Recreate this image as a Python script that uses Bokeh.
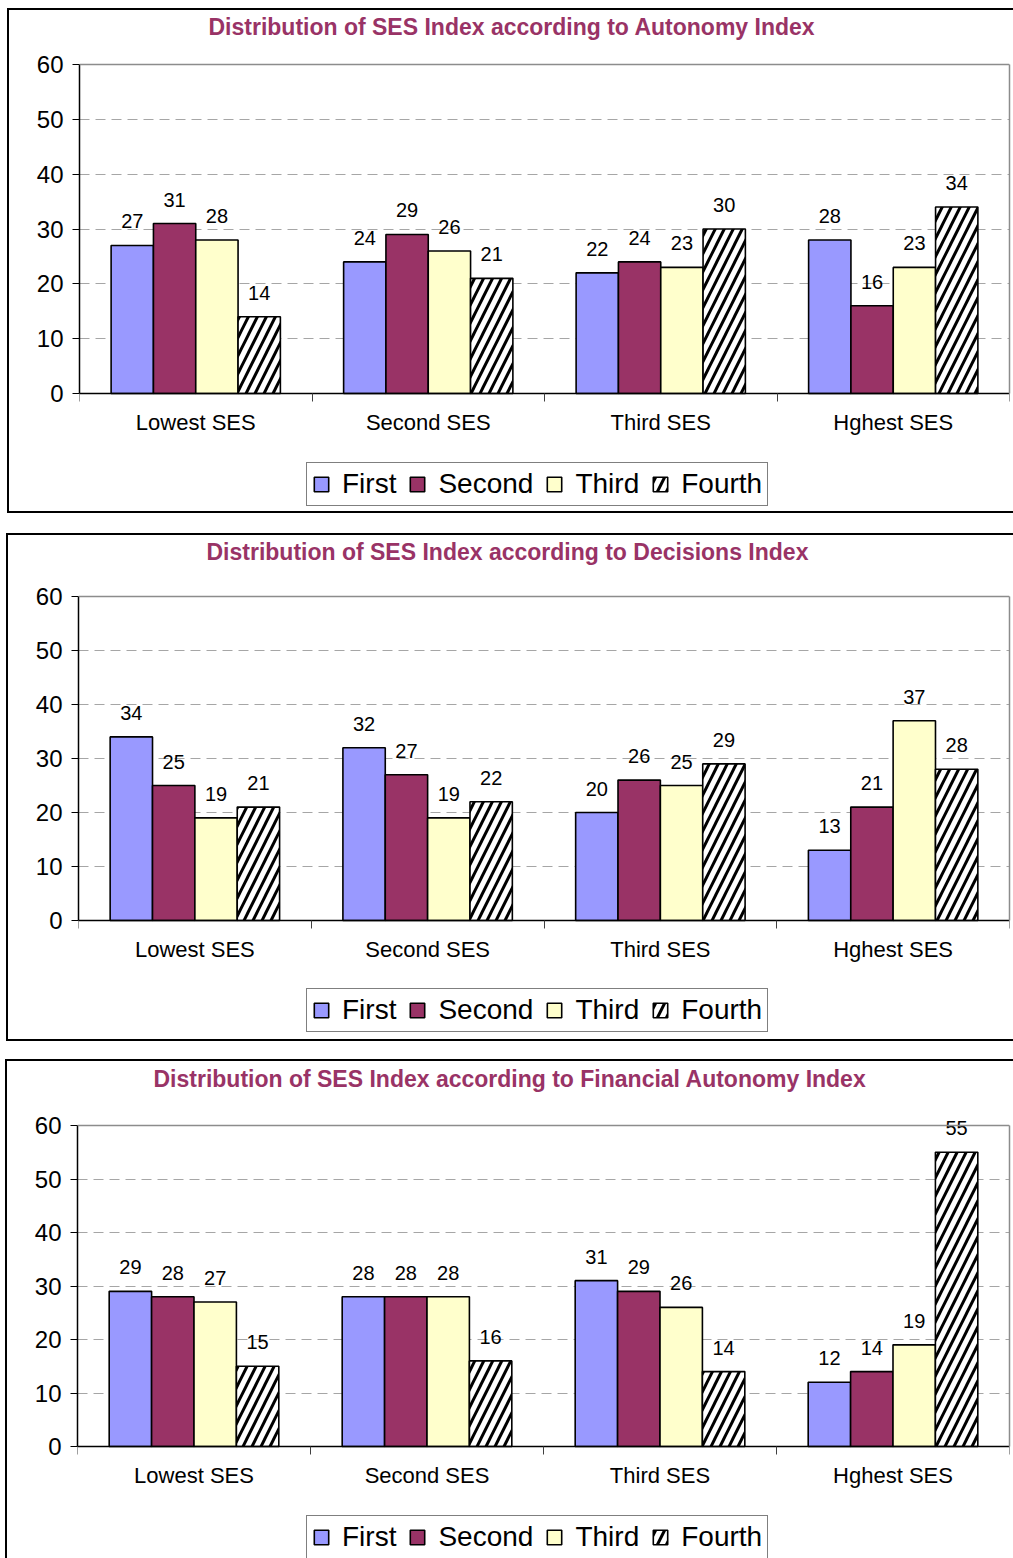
from bokeh.plotting import figure
from bokeh.layouts import column
from bokeh.models import (ColumnDataSource, Range1d, FixedTicker, Legend, LegendItem,
                          LinearAxis, Span, Title)
from bokeh.transform import dodge
from bokeh.embed import file_html
from bokeh.resources import INLINE

# SES quartile groups along the x axis
categories = ["Lowest SES", "Second SES", "Third SES", "Hghest SES"]
series_names = ["First", "Second", "Third", "Fourth"]

# Autonomy Index
autonomy_first = [27, 24, 22, 28]
autonomy_second = [31, 29, 24, 16]
autonomy_third = [28, 26, 23, 23]
autonomy_fourth = [14, 21, 30, 34]

# Decisions Index
decisions_first = [34, 32, 20, 13]
decisions_second = [25, 27, 26, 21]
decisions_third = [19, 19, 25, 37]
decisions_fourth = [21, 22, 29, 28]

# Financial Autonomy Index
financial_first = [29, 28, 31, 12]
financial_second = [28, 28, 29, 14]
financial_third = [27, 28, 26, 19]
financial_fourth = [15, 16, 14, 55]

y_ticks = [0, 10, 20, 30, 40, 50, 60]

FONT = "Liberation Sans"
BAR_W = 0.182
OFFSETS = [-1.5 * BAR_W, -0.5 * BAR_W, 0.5 * BAR_W, 1.5 * BAR_W]
FILLS = ["#9999FF", "#993366", "#FFFFCC", "#FFFFFF"]
FRAME_GRAY = "#8C8C8C"
BORDER = {"border-left": "2px solid #000", "border-top": "2px solid #000",
          "border-bottom": "2px solid #000"}


def make_panel(title, values, width, height, mb_left, mb_top, mb_right,
               top_px, plot_px, title_gap, title_offset, legend_loc, margin, styles):
    """One bordered chart panel.  The frame runs from a little above the 60 line
    down to the bottom of the panel, so value labels and the legend under the
    category axis are not clipped; plot_px is the pixel height of the 0..60 band."""
    centers = [i + 0.5 for i in range(len(categories))]
    data = {"center": centers, "cat": categories}
    for name, vals in zip(series_names, values):
        data[name] = vals
        data[name + "_lbl"] = [str(v) for v in vals]
    src = ColumnDataSource(data)

    y_lo, y_hi = y_ticks[0], y_ticks[-1]
    span = y_hi - y_lo
    below_px = height - mb_top - top_px - plot_px
    y_min = y_lo - span * below_px / plot_px
    y_max = y_hi + span * top_px / plot_px

    p = figure(width=width, height=height, output_backend="svg", toolbar_location=None,
               x_range=Range1d(0, len(categories)), y_range=Range1d(y_min, y_max),
               min_border_left=mb_left, min_border_top=mb_top,
               min_border_bottom=0, min_border_right=mb_right)
    p.margin = margin
    p.styles = styles
    p.outline_line_color = None
    p.background_fill_color = "white"
    p.border_fill_color = "white"

    # spacer between the title and the plot area, then the title itself
    p.add_layout(Title(text=" ", text_font_size="10px", standoff=title_gap), "above")
    p.title.text = title
    p.title.align = "left"
    p.title.offset = title_offset
    p.title.standoff = 0
    p.title.text_font = FONT
    p.title.text_font_size = "23px"
    p.title.text_font_style = "bold"
    p.title.text_color = "#993366"

    # y axis
    p.yaxis.ticker = FixedTicker(ticks=y_ticks)
    p.yaxis.bounds = (y_lo, y_hi)
    p.yaxis.axis_line_color = "black"
    p.yaxis.axis_line_width = 1.5
    p.yaxis.major_tick_line_color = "black"
    p.yaxis.major_tick_out = 7
    p.yaxis.major_tick_in = 0
    p.yaxis.minor_tick_line_color = None
    p.yaxis.major_label_text_font = FONT
    p.yaxis.major_label_text_font_size = "24px"
    p.yaxis.major_label_text_color = "black"
    p.yaxis.major_label_standoff = 9

    # grey plot-area edge on the right and at the top
    right = LinearAxis(ticker=FixedTicker(ticks=[]), bounds=(y_lo, y_hi),
                       axis_line_color=FRAME_GRAY, axis_line_width=1.5,
                       major_tick_out=0, major_tick_in=0, minor_tick_out=0, minor_tick_in=0,
                       major_label_standoff=0)
    p.add_layout(right, "right")
    p.add_layout(Span(location=y_hi, dimension="width", line_color=FRAME_GRAY, line_width=1.5))

    # x axis pinned at zero: names at group centres, ticks at group boundaries
    p.xaxis.fixed_location = 0
    p.xaxis.ticker = FixedTicker(ticks=centers, minor_ticks=list(range(len(categories) + 1)))
    p.xaxis.major_label_overrides = {c: cat for c, cat in zip(centers, categories)}
    p.xaxis.major_tick_line_color = None
    p.xaxis.major_tick_out = 0
    p.xaxis.major_tick_in = 0
    p.xaxis.minor_tick_line_color = "#404040"
    p.xaxis.minor_tick_out = 8
    p.xaxis.minor_tick_in = 0
    p.xaxis.axis_line_color = "black"
    p.xaxis.axis_line_width = 1.5
    p.xaxis.major_label_text_font = FONT
    p.xaxis.major_label_text_font_size = "22px"
    p.xaxis.major_label_text_color = "black"
    p.xaxis.major_label_standoff = 8

    p.xgrid.grid_line_color = None
    p.ygrid.grid_line_color = "#A6A6A6"
    p.ygrid.grid_line_dash = "10 6"
    p.ygrid.grid_line_width = 1

    renderers = []
    for name, off, fill in zip(series_names, OFFSETS, FILLS):
        kw = dict(fill_color=fill, line_color="black", line_width=1.6)
        if name == "Fourth":
            kw.update(hatch_pattern="/", hatch_color="black", hatch_scale=18, hatch_weight=3)
        r = p.vbar(x=dodge("center", off, range=p.x_range), top=name, bottom=0,
                   width=BAR_W, source=src, **kw)
        renderers.append(r)
        p.text(x=dodge("center", off, range=p.x_range), y=name, text=name + "_lbl",
               source=src, text_align="center", text_baseline="alphabetic", y_offset=-24,
               text_font={"value": FONT}, text_font_size="20px", text_color="black")

    legend = Legend(items=[LegendItem(label=n, renderers=[r]) for n, r in zip(series_names, renderers)],
                    orientation="horizontal", location=legend_loc)
    legend.label_text_font = FONT
    legend.label_text_font_size = "28px"
    legend.label_text_color = "black"
    legend.glyph_width = 18
    legend.glyph_height = 18
    legend.label_standoff = 12
    legend.spacing = 12
    legend.padding = 5
    legend.margin = 0
    legend.border_line_color = "black"
    legend.border_line_width = 1
    legend.background_fill_alpha = 1
    p.add_layout(legend, "center")
    return p


p1 = make_panel("Distribution of SES Index according to Autonomy Index",
                [autonomy_first, autonomy_second, autonomy_third, autonomy_fourth],
                width=1006, height=505, mb_left=70, mb_top=46, mb_right=6,
                top_px=8, plot_px=329, title_gap=4, title_offset=129,
                legend_loc=(227, 9), margin=(8, 0, 0, 7), styles=BORDER)

p2 = make_panel("Distribution of SES Index according to Decisions Index",
                [decisions_first, decisions_second, decisions_third, decisions_fourth],
                width=1007, height=508, mb_left=70, mb_top=53, mb_right=6,
                top_px=8, plot_px=324, title_gap=11, title_offset=128,
                legend_loc=(228, 11), margin=(20, 0, 0, 6), styles=BORDER)

p3 = make_panel("Distribution of SES Index according to Financial Autonomy Index",
                [financial_first, financial_second, financial_third, financial_fourth],
                width=1008, height=499, mb_left=70, mb_top=56, mb_right=5,
                top_px=8, plot_px=321, title_gap=13, title_offset=76,
                legend_loc=(229, 1), margin=(18, 0, 0, 5),
                styles={"border-left": "2px solid #000", "border-top": "2px solid #000"})

layout = column(p1, p2, p3, spacing=0)
layout.margin = 0

with open("out.html", "w") as f:
    f.write(file_html(layout, INLINE, title="SES Index distributions"))
